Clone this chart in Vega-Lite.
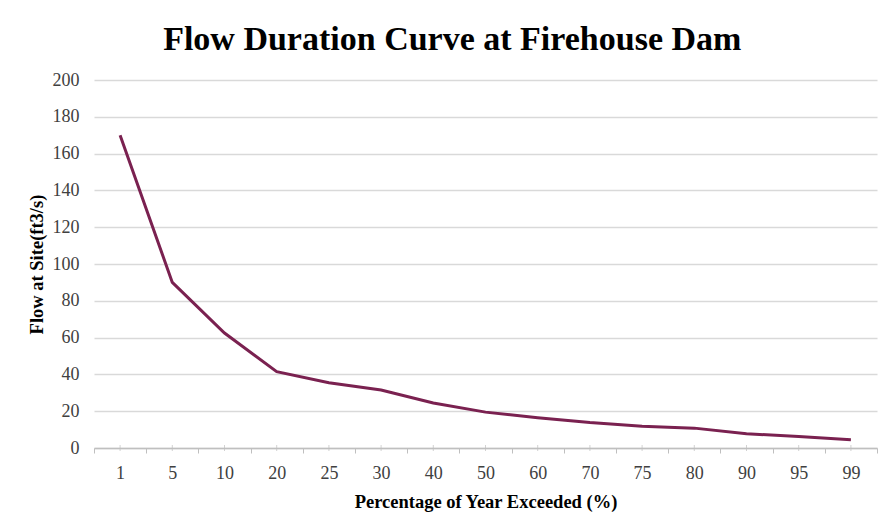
{
  "$schema": "https://vega.github.io/schema/vega-lite/v6.json",
  "width": 783,
  "height": 368,
  "autosize": {"type": "none"},
  "padding": {"left": 94, "top": 80, "right": 4, "bottom": 81},
  "background": "white",
  "config": {
    "view": {"stroke": null},
    "font": "Liberation Serif"
  },
  "title": {
    "text": "Flow Duration Curve at Firehouse Dam",
    "font": "Liberation Serif",
    "fontSize": 34,
    "fontWeight": "bold",
    "color": "#000000",
    "anchor": "middle",
    "frame": "bounds",
    "offset": 14
  },
  "data": {
    "values": [
      {"pct": "1", "flow": 170},
      {"pct": "5", "flow": 90},
      {"pct": "10", "flow": 62.5},
      {"pct": "20", "flow": 41.5},
      {"pct": "25", "flow": 35.5},
      {"pct": "30", "flow": 31.5},
      {"pct": "40", "flow": 24.5},
      {"pct": "50", "flow": 19.5},
      {"pct": "60", "flow": 16.5},
      {"pct": "70", "flow": 13.8},
      {"pct": "75", "flow": 11.8},
      {"pct": "80", "flow": 10.8},
      {"pct": "90", "flow": 7.8},
      {"pct": "95", "flow": 6.2},
      {"pct": "99", "flow": 4.5}
    ]
  },
  "encoding": {
    "x": {
      "field": "pct",
      "type": "ordinal",
      "sort": null,
      "scale": {"paddingInner": 0, "paddingOuter": 0},
      "axis": {
        "title": "Percentage of Year Exceeded (%)",
        "titleFont": "Liberation Serif",
        "titleFontSize": 18.5,
        "titleFontWeight": "bold",
        "titleColor": "#000000",
        "titlePadding": 10,
        "labelAngle": 0,
        "labelFont": "Liberation Serif",
        "labelFontSize": 18,
        "labelColor": "#404040",
        "labelPadding": 11,
        "tickBand": "extent",
        "ticks": true,
        "tickSize": 5,
        "tickColor": "#bfbfbf",
        "tickWidth": 1,
        "domainColor": "#bfbfbf",
        "domainWidth": 1.5,
        "grid": false
      }
    }
  },
  "layer": [
    {
      "mark": {"type": "line", "color": "#7a2150", "strokeWidth": 3},
      "encoding": {
        "y": {
          "field": "flow",
          "type": "quantitative",
          "scale": {"domain": [0, 200], "nice": false},
          "axis": {
            "title": "Flow at Site(ft3/s)",
            "titleFont": "Liberation Serif",
            "titleFontSize": 18.5,
            "titleFontWeight": "bold",
            "titleColor": "#000000",
            "titlePadding": 6,
            "values": [0, 20, 40, 60, 80, 100, 120, 140, 160, 180, 200],
            "labelOverlap": false,
            "labelFont": "Liberation Serif",
            "labelFontSize": 18,
            "labelColor": "#404040",
            "labelPadding": 15,
            "ticks": false,
            "domain": false,
            "grid": true,
            "gridColor": "#d9d9d9",
            "gridWidth": 1.5
          }
        }
      }
    },
    {
      "mark": {"type": "tick", "orient": "vertical", "size": 6, "thickness": 1, "color": "#bfbfbf"},
      "encoding": {
        "y": {
          "datum": 0,
          "type": "quantitative",
          "scale": {"domain": [0, 200], "nice": false},
          "axis": {
            "title": "Flow at Site(ft3/s)",
            "titleFont": "Liberation Serif",
            "titleFontSize": 18.5,
            "titleFontWeight": "bold",
            "titleColor": "#000000",
            "titlePadding": 6,
            "values": [0, 20, 40, 60, 80, 100, 120, 140, 160, 180, 200],
            "labelOverlap": false,
            "labelFont": "Liberation Serif",
            "labelFontSize": 18,
            "labelColor": "#404040",
            "labelPadding": 15,
            "ticks": false,
            "domain": false,
            "grid": true,
            "gridColor": "#d9d9d9",
            "gridWidth": 1.5
          }
        }
      }
    }
  ]
}
